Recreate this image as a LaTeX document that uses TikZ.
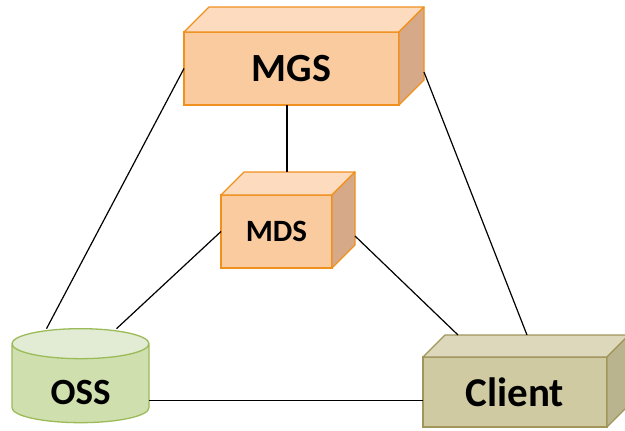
\documentclass[tikz,border=0pt]{standalone}
\usepackage{fontspec}
\setmainfont{Carlito}
\usepackage{tikz}
\usetikzlibrary{shapes.geometric}% cylinder for the storage node
\definecolor{mgsfront}{RGB}{251,203,160}
\definecolor{mgstop}{RGB}{253,219,190}
\definecolor{mgsside}{RGB}{214,170,136}
\definecolor{mgsline}{RGB}{240,144,30}
\definecolor{ossbody}{RGB}{207,223,174}
\definecolor{osstop}{RGB}{226,235,211}
\definecolor{ossline}{RGB}{155,187,89}
\definecolor{clifront}{RGB}{208,202,162}
\definecolor{clitop}{RGB}{221,215,187}
\definecolor{cliside}{RGB}{186,180,142}
\definecolor{cliline}{RGB}{160,150,92}
\tikzset{every node/.style={font=\bfseries},
  server/.style={draw=mgsline,fill=mgsfront,line width=1.3pt,
    inner sep=0pt,outer sep=0pt},
  link/.style={line width=1.2pt}}
% top and side faces of a box: node, depth, top, side, border
\newcommand{\cubefaces}[5]
{\filldraw[fill=#3,draw=#5,line width=1.3pt,line join=round]
   (#1.north west) -- ([xshift=#2pt,yshift=#2pt]#1.north west)
   -- ([xshift=#2pt,yshift=#2pt]#1.north east) -- (#1.north east) -- cycle;
 \filldraw[fill=#4,draw=#5,line width=1.3pt,line join=round]
   (#1.north east) -- ([xshift=#2pt,yshift=#2pt]#1.north east)
   -- ([xshift=#2pt,yshift=#2pt]#1.south east) -- (#1.south east) -- cycle;
 \coordinate (#1-top) at ([xshift=#2pt,yshift=#2pt]#1.north);
 \coordinate (#1-back) at ([xshift=#2pt,yshift=#2pt]#1.south east);}

\begin{document}
\begin{tikzpicture}[x=1pt,y=-1pt]
\useasboundingbox (0,0) rectangle (625,431);
% boxes
\node[server,minimum width=215pt,minimum height=73pt,
  font=\bfseries\fontsize{40}{40}\selectfont] (mgs) at (291.5,68.5) {MGS};
\cubefaces{mgs}{25}{mgstop}{mgsside}{mgsline}
\node[server,minimum width=111pt,minimum height=73pt,
  font=\bfseries\fontsize{31}{31}\selectfont] (mds) at (276.5,231.5) {MDS};
\cubefaces{mds}{23}{mgstop}{mgsside}{mgsline}
\node[server,draw=cliline,fill=clifront,minimum width=184pt,minimum height=70pt,
  font=\bfseries\fontsize{41}{41}\selectfont] (client) at (515,392) {Client};
\cubefaces{client}{22}{clitop}{cliside}{cliline}
\node[cylinder,shape border rotate=90,aspect=0.5,draw=ossline,
  line width=1.3pt,cylinder uses custom fill,cylinder body fill=ossbody,
  cylinder end fill=osstop,minimum width=137pt,minimum height=94pt,
  inner sep=0pt,outer sep=0pt,
  font=\bfseries\fontsize{37}{37}\selectfont] (oss) at (80.5,383.5)
  {\raisebox{-21pt}[0pt][0pt]{OSS}};
% connectors
\draw[link] (mgs.west) -- ([xshift=-34pt]oss.north);
\draw[link] ([yshift=8pt]mgs-back) -- ([xshift=-10pt]client-top);
\draw[link] ([xshift=-4.5pt]mgs.south) -- ([xshift=-4.5pt]mgs.south |- mds-top);
\draw[link] (mds.west) -- ([xshift=36pt]oss.north);
\draw[link] ([yshift=9pt]mds-back) -- ([xshift=-79pt]client-top);
\draw[link] ([yshift=-17pt]oss.east) -- ([yshift=-8.5pt]client.west);
\end{tikzpicture}
\end{document}
